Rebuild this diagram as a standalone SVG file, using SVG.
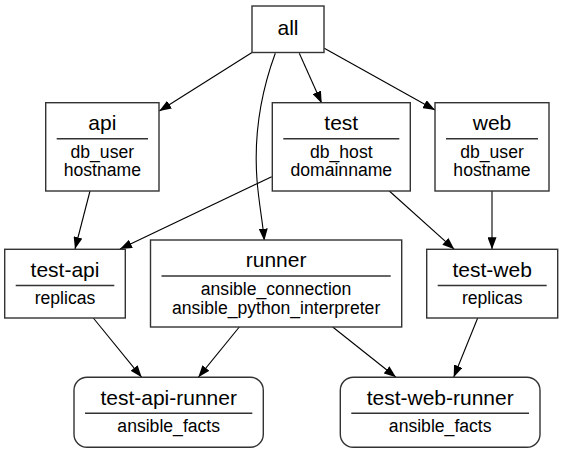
<svg xmlns="http://www.w3.org/2000/svg" width="563" height="453" viewBox="0 0 563 453">
<style>
.bg{fill:#ffffff}
.box{fill:#ffffff;stroke:#333333;stroke-width:1.4}
.div{stroke:#333333;stroke-width:1.4;fill:none}
.t{font-family:"Liberation Sans",Arial,Helvetica,sans-serif;font-size:21px;fill:#000000;text-anchor:middle}
.f{font-family:"Liberation Sans",Arial,Helvetica,sans-serif;font-size:17.6px;fill:#000000;text-anchor:middle}
.e{fill:none;stroke:#000000;stroke-width:1.1;marker-end:url(#ah)}
</style>
<defs>
<marker id="ah" viewBox="0 0 12 9" refX="12" refY="4.5" markerWidth="12" markerHeight="9" markerUnits="userSpaceOnUse" orient="auto">
<path d="M0,0 L12,4.5 L0,9 z" fill="#000000"/>
</marker>
</defs>
<rect class="bg" x="0" y="0" width="563" height="453"/>
<g id="connectors">
<path class="e" d="M252,52.5 L159.3,111"/>
<path class="e" d="M275.3,53.3 C260,95 254,140 257,180 C259,205 262.5,220 264.3,240.7"/>
<path class="e" d="M299.3,53.3 L321.7,103.3"/>
<path class="e" d="M324.3,48.3 L435,110"/>
<path class="e" d="M90,191 L75,249"/>
<path class="e" d="M271.7,176.7 L120,249"/>
<path class="e" d="M389.3,191 L454.3,249.3"/>
<path class="e" d="M492,191 L492,249.3"/>
<path class="e" d="M93.3,318 L141.7,377.3"/>
<path class="e" d="M239.3,327 L198.3,377.3"/>
<path class="e" d="M332.7,327 L396,377.3"/>
<path class="e" d="M477.7,318 L453.7,377.3"/>
</g>
<g id="all">
<rect class="box" x="252" y="6" width="72" height="46.5"/>
<text class="t" x="288" y="35">all</text>
</g>
<g id="api">
<rect class="box" x="45.7" y="102.7" width="113.3" height="88.3"/>
<text class="t" x="102.3" y="130">api</text>
<line class="div" x1="56.7" y1="138.7" x2="148" y2="138.7"/>
<text class="f" x="102.3" y="157.8">db_user</text>
<text class="f" x="102.3" y="176.4">hostname</text>
</g>
<g id="test">
<rect class="box" x="272.3" y="102.7" width="138" height="88.3"/>
<text class="t" x="341.3" y="130">test</text>
<line class="div" x1="283.3" y1="138.7" x2="399.3" y2="138.7"/>
<text class="f" x="341.3" y="157.8">db_host</text>
<text class="f" x="341.3" y="176.4">domainname</text>
</g>
<g id="web">
<rect class="box" x="435" y="102.7" width="114" height="88.3"/>
<text class="t" x="492" y="130">web</text>
<line class="div" x1="446" y1="138.7" x2="538" y2="138.7"/>
<text class="f" x="492" y="157.8">db_user</text>
<text class="f" x="492" y="176.4">hostname</text>
</g>
<g id="test-api">
<rect class="box" x="4.7" y="249.3" width="120.6" height="68.7"/>
<text class="t" x="65" y="276.7">test-api</text>
<line class="div" x1="15.7" y1="285.5" x2="114.3" y2="285.5"/>
<text class="f" x="65" y="304">replicas</text>
</g>
<g id="runner">
<rect class="box" x="150.5" y="240" width="251.2" height="87"/>
<text class="t" x="276.1" y="266.7">runner</text>
<line class="div" x1="161.5" y1="276" x2="390.7" y2="276"/>
<text class="f" x="276.1" y="295.2">ansible_connection</text>
<text class="f" x="276.1" y="313.8">ansible_python_interpreter</text>
</g>
<g id="test-web">
<rect class="box" x="426.7" y="249.3" width="131" height="68.7"/>
<text class="t" x="492.2" y="276.7">test-web</text>
<line class="div" x1="437.7" y1="285.5" x2="546.7" y2="285.5"/>
<text class="f" x="492.2" y="304">replicas</text>
</g>
<g id="test-api-runner">
<rect class="box" x="74" y="377.3" width="189.3" height="70" rx="13" ry="13"/>
<text class="t" x="168.7" y="405">test-api-runner</text>
<line class="div" x1="85" y1="413.3" x2="252.3" y2="413.3"/>
<text class="f" x="168.7" y="431.7">ansible_facts</text>
</g>
<g id="test-web-runner">
<rect class="box" x="340.3" y="377.3" width="199.7" height="70" rx="13" ry="13"/>
<text class="t" x="440.2" y="405">test-web-runner</text>
<line class="div" x1="351.3" y1="413.3" x2="529" y2="413.3"/>
<text class="f" x="440.2" y="431.7">ansible_facts</text>
</g>
</svg>
